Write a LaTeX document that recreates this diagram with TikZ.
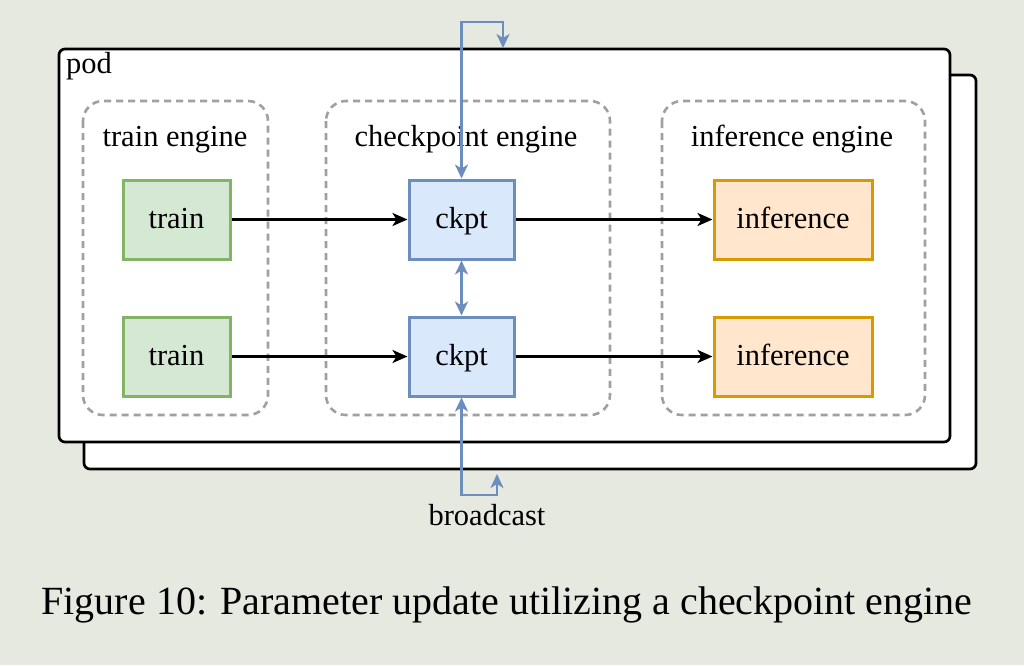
\documentclass[tikz,border=0pt]{standalone}
\usepackage{fontspec}
\setmainfont{Liberation Serif}
\usetikzlibrary{arrows.meta,positioning}
\definecolor{bgc}{RGB}{229,233,223}
\definecolor{gfill}{HTML}{D5E8D4}
\definecolor{gline}{HTML}{82B366}
\definecolor{bfill}{HTML}{DAE8FC}
\definecolor{bline}{HTML}{6C8EBF}
\definecolor{ofill}{HTML}{FFE6CC}
\definecolor{oline}{HTML}{D79B00}
\definecolor{dashc}{RGB}{160,160,160}
\tikzset{
  lbl/.style={font=\fontsize{30.5}{36}\selectfont, inner sep=0pt},
  podbox/.style={draw=black, line width=2.7pt, fill=white, rounded corners=6pt},
  group/.style={draw=dashc, line width=2.6pt, dash pattern=on 7pt off 5pt, rounded corners=20pt},
  boxtext/.style={font=\fontsize{30.5}{36}\selectfont, inner sep=0pt, text height=17pt, text depth=0pt, line width=3pt, minimum height=79pt},
  trainbox/.style={boxtext, draw=gline, fill=gfill, minimum width=107pt},
  ckptbox/.style={boxtext, draw=bline, fill=bfill, minimum width=105pt},
  infbox/.style={boxtext, draw=oline, fill=ofill, minimum width=158pt},
  flow/.style={draw=black, line width=2.6pt, -{Stealth[length=15pt,width=13pt,inset=4pt]}},
  bflow/.style={draw=bline, line width=2.7pt, {Stealth[length=14pt,width=13pt,inset=4pt]}-{Stealth[length=14pt,width=13pt,inset=4pt]}},
}
\begin{document}
\begin{tikzpicture}[x=1pt,y=-1pt]
\useasboundingbox[fill=bgc] (0,0) rectangle (1024,665);
% pod stack
\draw[podbox] (84,75) rectangle (976,469);
\draw[podbox] (59,49) rectangle (950,442);
\node[lbl, anchor=base west] (pod) at (66,73) {pod};
% groups
\draw[group] (83,101) rectangle (268,415);
\draw[group] (326,101) rectangle (610,415);
\draw[group] (662,101) rectangle (925,415);
\node[lbl, anchor=base] (tt) at (175,146) {train engine};
\node[lbl, anchor=base] (ct) at (466,146) {checkpoint engine};
\node[lbl, anchor=base] (it) at (792,146) {inference engine};
% nodes
\node[trainbox] (t1) at (176.5,219.5) {train};
\node[trainbox] (t2) at (176.5,356.5) {train};
\node[ckptbox] (c1) at (461.5,219.5) {ckpt};
\node[ckptbox] (c2) at (461.5,356.5) {ckpt};
\node[infbox] (i1) at (793,219.5) {inference};
\node[infbox] (i2) at (793,356.5) {inference};
% flows
\draw[flow] (t1) -- (c1);
\draw[flow] (t2) -- (c2);
\draw[flow] (c1) -- (i1);
\draw[flow] (c2) -- (i2);
\draw[bflow] (c1) -- (c2);
% top loop
\coordinate (topTurn) at (503,22);
\coordinate (topEnd) at (503,48);
\draw[bflow] (c1.north) -- (c1.north |- topTurn) -- (topTurn) -- (topEnd);
% bottom loop
\coordinate (botTurn) at (497,495);
\coordinate (botEnd) at (497,474);
\draw[bflow] (c2.south) -- (c2.south |- botTurn) -- (botTurn) -- (botEnd);
\node[lbl, anchor=base] (bc) at (487,525) {broadcast};
% caption
\node[font=\fontsize{40}{48}\selectfont, inner sep=0pt, anchor=base] (cap) at (507,614) {Figure 10: Parameter update utilizing a checkpoint engine};
\end{tikzpicture}
\end{document}
